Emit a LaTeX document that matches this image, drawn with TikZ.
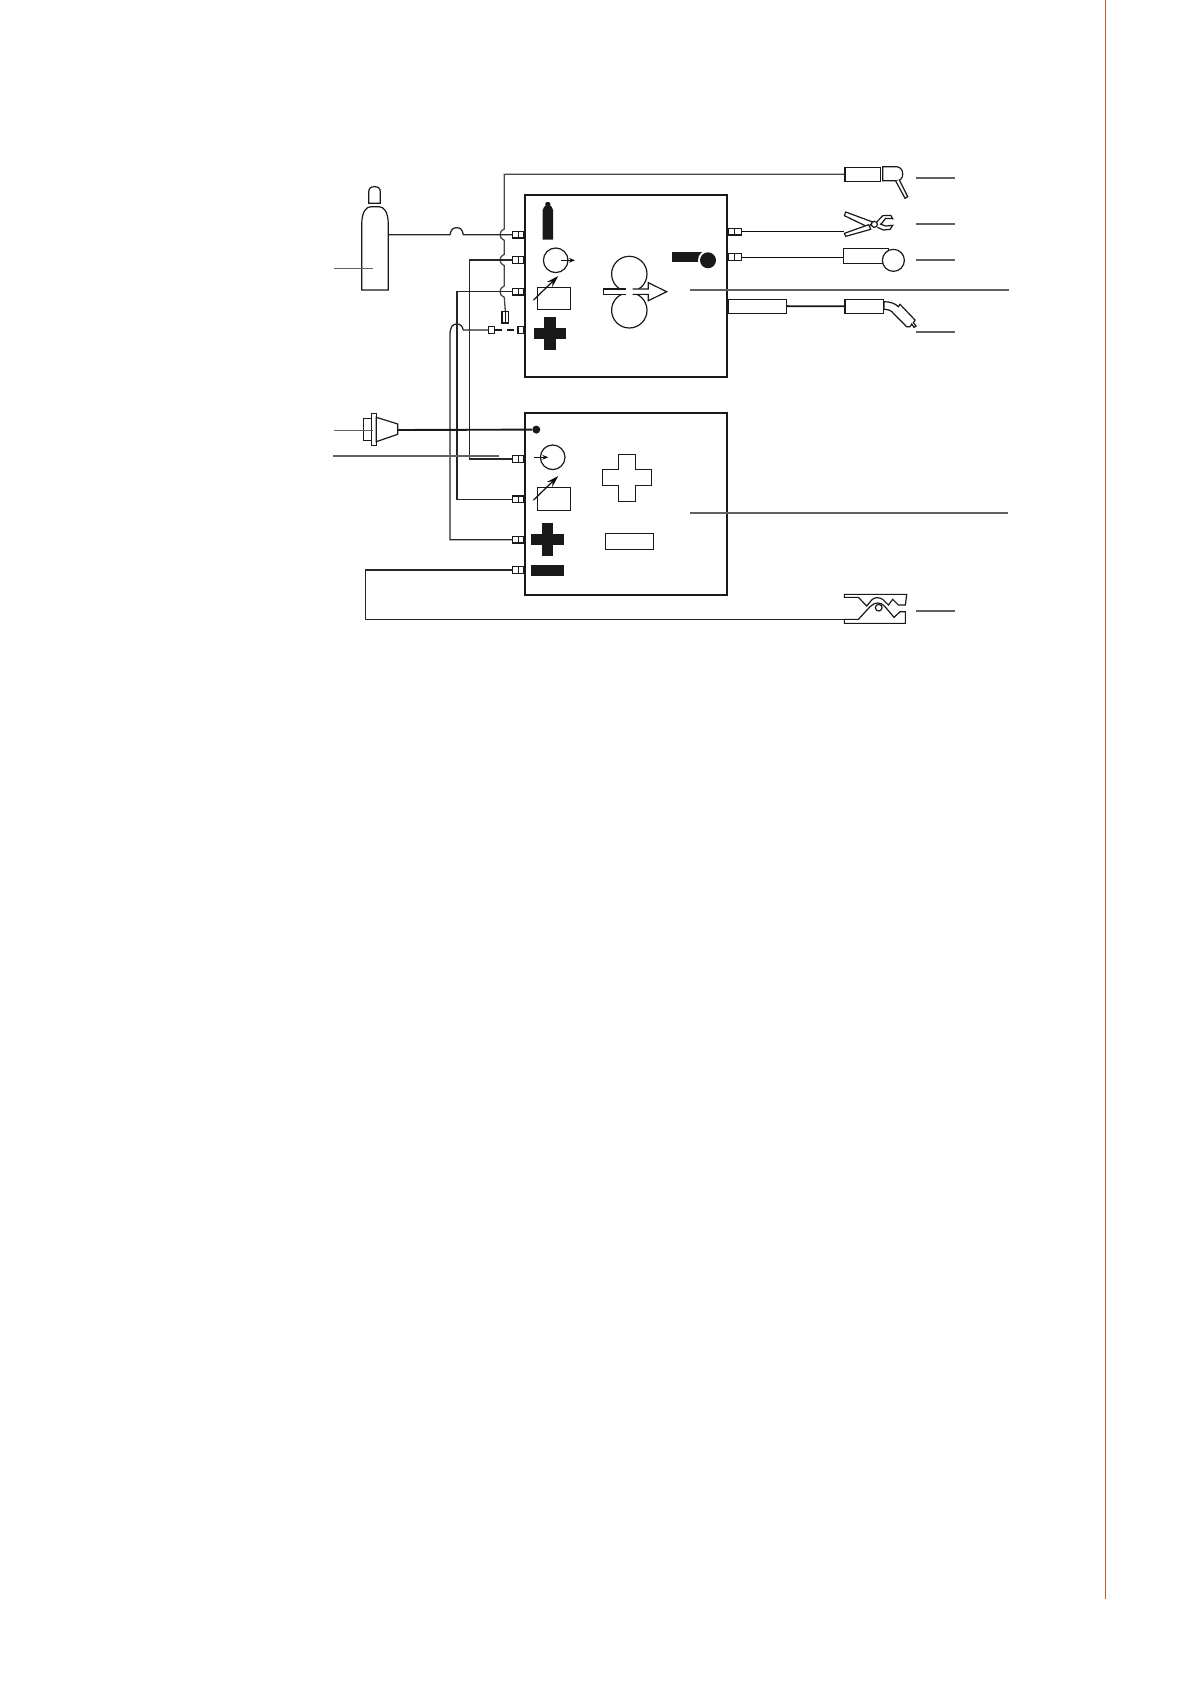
\documentclass[tikz,border=0pt]{standalone}
\usetikzlibrary{arrows.meta, positioning}

\definecolor{pagerule}{RGB}{190,95,50}
\tikzset{
    unitbox/.style={draw=black!90, line width=1pt, inner sep=0pt, minimum width=101.3pt, minimum height=91pt},
    portbox/.style={draw=black!90, fill=white, line width=0.6pt, inner sep=0pt, minimum width=5.7pt, minimum height=3.3pt,
        path picture={\draw[line width=0.6pt] (path picture bounding box.north) -- (path picture bounding box.south);}},
    endbox/.style={draw=black!90, fill=white, line width=0.6pt, inner sep=0pt, minimum width=3pt, minimum height=3.3pt},
    handlebox/.style={draw=black!90, fill=white, line width=0.65pt, inner sep=0pt, minimum height=7pt},
    wire/.style={draw=black!85, line width=0.65pt},
    fewire/.style={draw=black!72, line width=0.65pt},
    thinwire/.style={draw=black!95, line width=0.45pt},
    powerwire/.style={draw=black!90, line width=0.95pt},
    callout/.style={draw=black!62, line width=0.75pt},
    symbol/.style={draw=black!90, fill=white, line width=0.6pt, line join=miter},
    solid symbol/.style={fill=black!90}
}
\newcommand{\hop}{.. controls +(-3,2) and +(0,-3) .. ++(-4.3,5.7) .. controls +(0,3) and +(-3,-2) .. ++(4.3,5.7)}

\begin{document}
\begin{tikzpicture}[x=0.5pt, y=-0.5pt, >=Stealth]
    \useasboundingbox (0,0) rectangle (1191,1684);

    \draw[draw=pagerule, line width=0.7pt] (1105.3,0) -- (1105.3,1598.7);

    % units
    \node[unitbox] at (626,285.85) (feeder) {};
    \node[unitbox] at (626,504.2) (source) {};

    % ports
    \node[portbox] at (518.3,234.7) (gasport) {};
    \node[portbox] at (518.3,260) (flowport) {};
    \node[portbox] at (518.3,291.7) (ctrlport) {};
    \node[portbox, rotate=90] at (505.3,317.3) (fuseport) {};
    \node[endbox] at (491.7,330) (plusfree) {};
    \node[endbox] at (521,330) (plusin) {};
    \node[portbox, minimum width=6.8pt] at (734.8,231.7) (electrodeport) {};
    \node[portbox, minimum width=6.8pt] at (734.8,257) (wireport) {};
    \node[portbox] at (518.3,459) (flowback) {};
    \node[portbox] at (518.3,499.3) (ctrlback) {};
    \node[portbox] at (518.3,539.7) (plusout) {};
    \node[portbox] at (518.3,570) (minusout) {};

    % end pieces with their handles
    \node[handlebox, minimum width=17.8pt, anchor=west] at (844.3,174.3) (gunbox) {};
    \node[handlebox, minimum width=19.2pt, anchor=west] at (844.3,306.3) (torchbox) {};
    \node[handlebox, minimum width=29.2pt, anchor=west] at (727.3,306.2) (cablebox) {};
    \coordinate (pliers) at (844.3,231.7);
    \coordinate (wirefeed) at (843.3,257);
    \coordinate (clamp) at (844.3,619.3);
    \coordinate (cylout) at (388.3,234.7);
    \node[circle, fill=black!90, inner sep=0pt, minimum size=4pt] at (536.3,429.6) (mainsdot) {};
    \coordinate (plugout) at (397.7,430);

    % connections
    \draw[fewire] (gunbox.west) -| (504.3,229) \hop -- (504.3,254.3) \hop -- (504.3,286) \hop -- (fuseport.east);
    \draw[wire] (cylout) -- (450,234.7) .. controls (451,229.5) and (453,227.7) .. (456.7,227.7) .. controls (460.5,227.7) and (462.3,229.5) .. (463.3,234.7) -- (gasport.west);
    \draw[wire] (flowport.west) -| (469.7,459) -- (flowback.west);
    \draw[wire] (ctrlport.west) -| (457,499.3) -- (ctrlback.west);
    \draw[wire] (plusout.west) -| (450,335) .. controls (450,327) and (452.5,324) .. (456.7,324) .. controls (460.5,324) and (462.3,326) .. (463.3,330) -- (plusfree.west);
    \draw[powerwire, dash pattern=on 3.5pt off 2.5pt] (plusfree.east) -- (plusin.west);
    \draw[wire] (minusout.west) -| (365.7,619.3) -- (clamp);
    \draw[powerwire] (plugout) -- (mainsdot);
    \draw[thinwire] (electrodeport.east) -- (pliers);
    \draw[thinwire] (wireport.east) -- (wirefeed);
    \draw[powerwire] (cablebox.east) -- (torchbox.west);

    % gas bottle
    \draw[symbol] (361.7,290) -- (361.7,225) .. controls (361.7,212) and (366,206.7) .. (371,206.7) -- (379,206.7) .. controls (384,206.7) and (388.3,212) .. (388.3,225) -- (388.3,290) -- cycle;
    \draw[symbol] (368.7,203.3) -- (368.7,192) .. controls (368.7,188) and (371,186.7) .. (374.5,186.7) .. controls (378,186.7) and (380.3,188) .. (380.3,192) -- (380.3,203.3) -- cycle;

    % mains plug
    \draw[symbol] (363.3,418.7) rectangle (371.7,440.3);
    \draw[symbol] (371.7,413.3) rectangle (376.3,445.3);
    \draw[symbol] (376.3,417.3) -- (397.7,424) -- (397.7,434.3) -- (376.3,441.7) -- cycle;

    % feeder symbols
    \fill[solid symbol] (542.7,239.7) -- (542.7,210) .. controls (542.7,207) and (545,205.5) .. (547.8,205.5) .. controls (551,205.5) and (553,207) .. (553,210) -- (553,239.7) -- cycle;
    \fill[solid symbol] (545.3,207) -- (545.3,203.5) .. controls (545.3,201.5) and (550.3,201.5) .. (550.3,203.5) -- (550.3,207) -- cycle;
    \draw[symbol] (555.7,260.3) circle [radius=12.3];
    \draw[thinwire, -{Stealth[length=3pt, width=2.4pt]}] (561.3,260.3) -- (575,260.3);
    \draw[symbol] (537.3,287.7) rectangle (570.3,309.3);
    \draw[thinwire, line width=0.6pt, -{Stealth[length=6pt, width=3.6pt]}] (533.3,300.3) -- (558.3,276);
    \fill[solid symbol] (544,317.3) rectangle (556,350);
    \fill[solid symbol] (534,328) rectangle (566,339);
    \fill[solid symbol] (672,252) rectangle (701.7,261.7);
    \fill[white] (708,260.3) circle [radius=10];
    \fill[solid symbol] (708,260.3) circle [radius=8];

    % feed rolls
    \draw[symbol] (629.3,274) circle [radius=17.7];
    \draw[symbol] (629.3,310.3) circle [radius=17.7];
    \fill[white] (626,287) rectangle (632.7,296.5);
    \draw[symbol] (626,289) -- (603.3,289) -- (603.3,294.4) -- (626,294.4);
    \draw[symbol] (632.7,289) -- (648.3,289) -- (648.3,282.7) -- (666.7,291.7) -- (648.3,300.7) -- (648.3,294.4) -- (632.7,294.4);

    % source symbols
    \draw[symbol] (552.7,457.3) circle [radius=12.3];
    \draw[thinwire, -{Stealth[length=3pt, width=2.4pt]}] (534,457.3) -- (548.3,457.3);
    \draw[symbol] (537.3,487.7) rectangle (570.3,510.3);
    \draw[thinwire, line width=0.6pt, -{Stealth[length=6pt, width=3.6pt]}] (533.3,500.3) -- (558.3,476);
    \fill[solid symbol] (542,523) rectangle (553,555.7);
    \fill[solid symbol] (531,534) rectangle (564,545);
    \fill[solid symbol] (531,565) rectangle (564,575.7);
    \draw[symbol, line width=0.75pt] (618.3,454.3) -- (635.3,454.3) -- (635.3,469.7) -- (651.7,469.7) -- (651.7,485.3) -- (635.3,485.3) -- (635.3,501.3) -- (618.3,501.3) -- (618.3,485.3) -- (602.7,485.3) -- (602.7,469.7) -- (618.3,469.7) -- cycle;
    \draw[symbol] (605.7,533.3) rectangle (653.7,549.7);

    % gun, pliers, wire, torch
    \begin{scope}[shift={(720,150)}, x=0.1667pt, y=-0.1667pt]
        \draw[symbol] (488,50) -- (530,50) .. controls (542,52) and (548,60) .. (548,72) .. controls (548,84) and (542,92) .. (530,92) -- (488,92) -- cycle;
        \draw[symbol] (527,93) -- (555,145) -- (563,140) -- (538,90);
        \draw[symbol] (373,197) -- (377,186) -- (458,216) -- (446,232) -- cycle;
        \draw[symbol] (373,250) -- (377,259) -- (452,238) -- (446,224) -- cycle;
        \draw[symbol] (470,216) -- (488,197) -- (512,196) -- (518,206) -- (497,205) -- (480,226);
        \draw[symbol] (472,232) -- (490,240) -- (510,238) -- (518,226) -- (497,228) -- (480,222);
        \draw[symbol] (463,223) circle [radius=9];
        \draw[symbol] (370,296) -- (505,296) -- (505,340) -- (370,340) -- cycle;
        \draw[symbol] (520,331) circle [radius=33];
        \draw[symbol] (492,455) .. controls (510,455) and (525,460) .. (535,470) -- (540,463) -- (585,510) -- (580,518) -- (588,528) -- (582,532) -- (575,522) -- (570,530) -- (560,530) -- (520,490) .. controls (515,482) and (505,478) .. (492,478) -- cycle;
    \end{scope}

    % earth clamp
    \begin{scope}[shift={(720,480)}, x=0.1667pt, y=-0.1667pt]
        \draw[symbol] (373,343) -- (560,343) -- (556,375) -- (535,375) -- (518,358) -- (505,375) -- (488,358) .. controls (475,350) and (462,352) .. (455,360) -- (440,378) -- (415,352) -- (373,352) -- cycle;
        \draw[symbol] (373,430) -- (556,430) -- (556,395) -- (540,395) -- (522,412) -- (495,380) .. controls (482,365) and (465,365) .. (450,380) -- (415,418) -- (373,418) -- cycle;
        \draw[symbol] (476,383) circle [radius=10];
    \end{scope}

    % callouts
    \coordinate (cylmark) at (372.7,268.7);
    \coordinate (plugmark) at (372.7,430.7);
    \coordinate (backmark) at (499,456);
    \coordinate (feedermark) at (690,290);
    \coordinate (sourcemark) at (690,513);
    \draw[callout] (334,268.7) -- (cylmark);
    \draw[callout] (334,430.7) -- (plugmark);
    \draw[callout] (333,456) -- (backmark);
    \draw[callout] (feedermark) -- (1009,290);
    \draw[callout] (sourcemark) -- (1008,513);
    \foreach \marky in {178, 224, 260, 332, 611} {
        \draw[callout] (916,\marky) -- (955,\marky);
    };
\end{tikzpicture}
\end{document}
